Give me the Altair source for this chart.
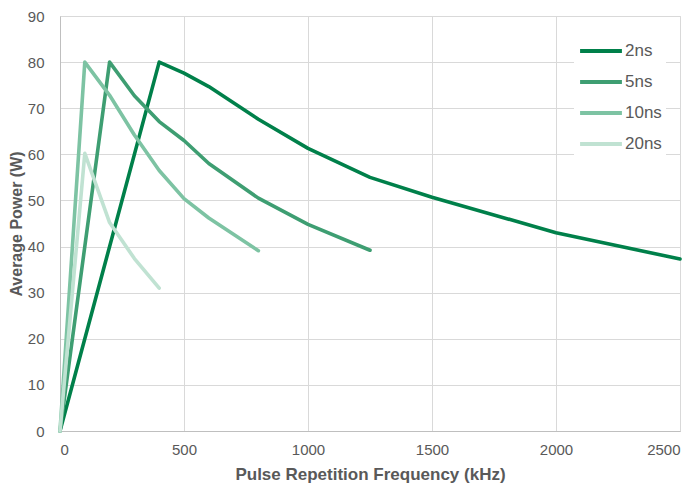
import altair as alt
import pandas as pd

series_names = ["2ns", "5ns", "10ns", "20ns"]
colors = ["#00804A", "#3E9E72", "#7DC3A3", "#C0E2D2"]

x_2ns = [0, 400, 500, 600, 800, 1000, 1250, 1500, 2000, 2500]
y_2ns = [0, 80, 77.6, 74.7, 67.6, 61.3, 55.0, 50.7, 43.0, 37.3]

x_5ns = [0, 200, 300, 400, 500, 600, 800, 1000, 1250]
y_5ns = [0, 80, 72.7, 67.1, 63.0, 58.0, 50.5, 44.8, 39.2]

x_10ns = [0, 100, 200, 300, 400, 500, 600, 800]
y_10ns = [0, 80, 72.8, 64.2, 56.5, 50.4, 46.2, 39.1]

x_20ns = [0, 100, 200, 300, 400]
y_20ns = [0, 60.2, 45.2, 37.4, 31.0]

x_ticks = [0, 500, 1000, 1500, 2000, 2500]
y_ticks = [0, 10, 20, 30, 40, 50, 60, 70, 80, 90]

rows = []
for order, (name, xs, ys) in enumerate(zip(series_names,
                                           [x_2ns, x_5ns, x_10ns, x_20ns],
                                           [y_2ns, y_5ns, y_10ns, y_20ns])):
    for xv, yv in zip(xs, ys):
        rows.append({"series": name, "freq": xv, "power": yv, "ord": order})
df = pd.DataFrame(rows)

font = "Liberation Sans"
gray = "#595959"

chart = alt.Chart(df).mark_line(strokeWidth=3.6, strokeCap="round", strokeJoin="round").encode(
    x=alt.X("freq:Q", title="Pulse Repetition Frequency (kHz)",
            scale=alt.Scale(domain=[0, 2500], nice=False),
            axis=alt.Axis(values=x_ticks, format="d", grid=True,
                          gridColor="#d9d9d9", domainColor="#bfbfbf", ticks=False,
                          labelFont=font, labelFontSize=15, labelColor=gray, labelPadding=11,
                          titleFont=font, titleFontSize=17, titleFontWeight="bold",
                          titleColor=gray, titlePadding=9)),
    y=alt.Y("power:Q", title="Average Power (W)",
            scale=alt.Scale(domain=[0, 90], nice=False),
            axis=alt.Axis(values=y_ticks, format="d", grid=True,
                          gridColor="#d9d9d9", domainColor="#bfbfbf", ticks=False,
                          labelFont=font, labelFontSize=15, labelColor=gray, labelPadding=16,
                          titleFont=font, titleFontSize=16, titleFontWeight="bold",
                          titleColor=gray, titlePadding=3)),
    color=alt.Color("series:N", sort=series_names,
                    scale=alt.Scale(domain=series_names, range=colors),
                    legend=alt.Legend(title=None, orient="none", legendX=514, legendY=8,
                                      symbolType="stroke", symbolStrokeWidth=4,
                                      symbolSize=1750, rowPadding=0,
                                      labelFont=font, labelFontSize=17, labelColor=gray,
                                      labelOffset=1, fillColor="white", padding=4)),
    order=alt.Order("ord:Q"),
    detail="series:N",
).properties(
    width=620, height=415,
    padding={"left": 52, "top": 8, "right": 10, "bottom": 54},
    autosize="none",
).configure_view(stroke="#d9d9d9")

chart.save("out.html", embed_options={"renderer": "svg", "actions": False})
